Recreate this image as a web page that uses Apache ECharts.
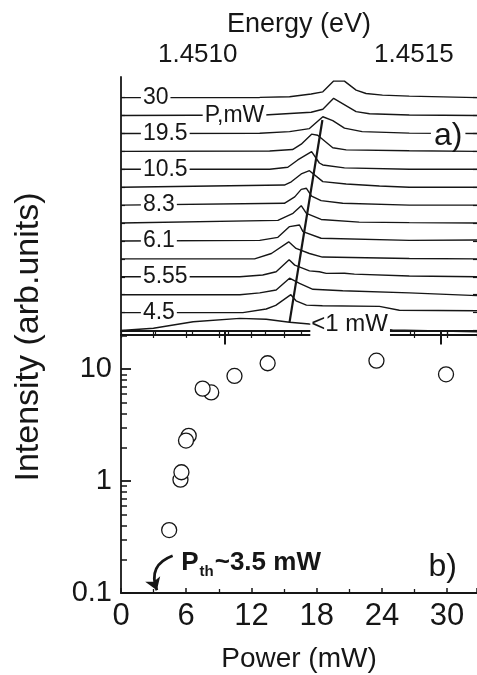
<!DOCTYPE html>
<html><head><meta charset="utf-8">
<script src="https://cdn.jsdelivr.net/npm/echarts@6/dist/echarts.min.js"></script>
<style>html,body{margin:0;padding:0;background:#fff}#c{width:477px;height:675px}</style>
</head><body><div id="c"></div>
<script>
// ---------- panel a) spectra: [energy (eV), normalized intensity] ----------
const specLt1 = [[1.450760,0],[1.450835,0.13],[1.450927,0.49],[1.451035,0.68],[1.451096,0.63],[1.451150,0.46],[1.451196,0.36],[1.451388,0.03],[1.451584,-0.07]];
const spec4_5 = [[1.450760,0],[1.451042,0],[1.451096,0.2],[1.451118,0.4],[1.451153,1.0],[1.451165,0.66],[1.451189,0.42],[1.451226,0.38],[1.451358,0.35],[1.451404,0.13],[1.451584,0.1]];
const specB = [[1.450760,0],[1.451035,0],[1.451081,0.1],[1.451119,0.26],[1.451150,0.92],[1.451173,0.63],[1.451204,0.3],[1.451273,0.22],[1.451427,0.1],[1.451584,-0.05]];
const spec5_55 = [[1.450760,0],[1.451035,0],[1.451088,0.1],[1.451119,0.28],[1.451149,0.95],[1.451162,0.65],[1.451196,0.33],[1.451219,0.28],[1.451235,0.19],[1.451277,0.2],[1.451300,0.15],[1.451427,0.04],[1.451584,0]];
const specD = [[1.450760,0],[1.451069,0],[1.451108,0.3],[1.451148,0.95],[1.451165,0.58],[1.451196,0.3],[1.451226,0.1],[1.451427,0.02],[1.451584,0]];
const spec6_1 = [[1.450760,0],[1.451081,0.03],[1.451123,0.2],[1.451150,0.8],[1.451173,0.89],[1.451181,0.52],[1.451223,0.15],[1.451427,0.03],[1.451584,0.05]];
const specF = [[1.450760,0],[1.451123,0.15],[1.451158,0.54],[1.451177,0.97],[1.451189,0.54],[1.451223,0.2],[1.451311,0.05],[1.451427,0.02],[1.451584,0]];
const spec8_3 = [[1.450760,0],[1.451138,0.1],[1.451162,0.46],[1.451177,0.88],[1.451189,0.94],[1.451201,0.5],[1.451223,0.25],[1.451273,0.1],[1.451427,0],[1.451584,0]];
const specH = [[1.450760,0],[1.451138,0.12],[1.451154,0.3],[1.451177,0.74],[1.451196,0.92],[1.451227,0.31],[1.451281,0.18],[1.451358,0.07],[1.451427,0],[1.451584,0]];
const spec10_5 = [[1.450760,0],[1.451104,0],[1.451146,0.11],[1.451169,0.52],[1.451201,0.98],[1.451219,0.35],[1.451227,0.24],[1.451277,0.08],[1.451427,0],[1.451584,0]];
const specJ = [[1.450760,0],[1.451104,0.02],[1.451157,0.1],[1.451177,0.4],[1.451201,0.96],[1.451215,0.9],[1.451250,0.2],[1.451281,0.08],[1.451427,0.03],[1.451584,0]];
const spec19_5 = [[1.450760,0],[1.451081,0.01],[1.451150,0.1],[1.451196,0.27],[1.451227,0.93],[1.451250,0.72],[1.451277,0.3],[1.451318,0.1],[1.451427,0.02],[1.451584,0]];
const specL = [[1.450760,0],[1.451092,0.03],[1.451200,0.18],[1.451227,0.35],[1.451252,0.96],[1.451304,0.22],[1.451335,0.1],[1.451427,0.03],[1.451584,0]];
const spec30 = [[1.450760,0],[1.451081,0.01],[1.451150,0.05],[1.451200,0.2],[1.451227,0.32],[1.451252,0.92],[1.451277,0.92],[1.451304,0.42],[1.451327,0.23],[1.451365,0.14],[1.451427,0.08],[1.451584,0]];
// bottom-to-top stacking order (offset = index)
const spectra = [specLt1, spec4_5, specB, spec5_55, specD, spec6_1, specF, spec8_3, specH, spec10_5, specJ, spec19_5, specL, spec30];

// peak-shift guide line
const trendEnergy = [1.451150, 1.451226];
const trendLevel = [0.47, 11.75];

// trace labels
const traceLabelText = ['30', 'P,mW', '19.5', '10.5', '8.3', '6.1', '5.55', '4.5'];
const traceLabelLevel = [13, 12, 11, 9, 7, 5, 3, 1];
const traceLabelEnergy = [1.450806, 1.450949, 1.450806, 1.450806, 1.450806, 1.450806, 1.450806, 1.450806];

// energy axis ticks
const energyMajorTicks = [1.4510, 1.4515];
const energyMinorTicks = [1.450840, 1.450924, 1.451009, 1.451093, 1.451177, 1.451261, 1.451345, 1.451430, 1.451514];
const traceTicks = [0,1,2,3,4,5,6,7,8,9,10,11,12,13];

// ---------- panel b) intensity vs power ----------
const powerMW = [4.43, 8.30, 7.51, 6.23, 5.98, 5.47, 5.56, 10.44, 13.49, 23.5, 29.9];
const intensity = [0.365, 6.2, 6.7, 2.54, 2.30, 1.03, 1.20, 8.7, 11.3, 11.9, 9.0];
const logMajor = [0.1, 1, 10];
const logMinor = [0.2,0.3,0.4,0.5,0.6,0.7,0.8,0.9,2,3,4,5,6,7,8,9,20];
const arrowStart = [4.75, 0.215];
const arrowEnd = [3.3, 0.106];

const FONT = '"Liberation Sans", Arial, Helvetica, sans-serif';
const INK = '#161616';
const TXT = '#161616';

const E_MIN = 1.45076, E_MAX = 1.4515837;
const P_MAX = 32.75;
const V_MIN = -0.25, V_MAX = 14.15;

const series = [];
spectra.forEach((s, k) => {
  series.push({
    type: 'line', xAxisIndex: 0, yAxisIndex: 0,
    data: s.map(p => [p[0], p[1] + k]),
    symbol: 'none', showSymbol: false, silent: true, animation: false,
    lineStyle: { color: INK, width: 1.4 }, z: 3
  });
});
series.push({
  type: 'line', xAxisIndex: 0, yAxisIndex: 0,
  data: trendEnergy.map((e, i) => [e, trendLevel[i]]),
  symbol: 'none', silent: true, animation: false,
  lineStyle: { color: INK, width: 2.2 }, z: 4
});
// labels on traces
const labData = traceLabelText.map((t, i) => ({
  value: [traceLabelEnergy[i], traceLabelLevel[i]],
  label: { formatter: t }
}));
labData.push({ value: [1.451198, 0.36], label: { formatter: '<1 mW', fontSize: 24, lineHeight: 22, padding: [1, 2, 7, 1] } });
series.push({
  type: 'scatter', xAxisIndex: 0, yAxisIndex: 0, symbolSize: 0, silent: true, animation: false, z: 6,
  itemStyle: { opacity: 1 },
  data: labData,
  label: { show: true, position: 'right', distance: 0, fontSize: 23, fontFamily: FONT, color: TXT,
           backgroundColor: '#fff', padding: [0, 2], lineHeight: 18 }
});
series.push({
  type: 'scatter', xAxisIndex: 0, yAxisIndex: 0, symbolSize: 0, silent: true, animation: false, z: 6,
  itemStyle: { opacity: 1 },
  data: [{ value: [1.451517, 10.83], label: { formatter: 'a)' } }],
  label: { show: true, position: 'inside', fontSize: 32, fontFamily: FONT, color: TXT,
           backgroundColor: '#fff', padding: [0, 3], lineHeight: 16 }
});
// panel b
series.push({
  type: 'scatter', xAxisIndex: 3, yAxisIndex: 2, silent: true, animation: false, z: 3,
  data: powerMW.map((p, i) => [p, intensity[i]]),
  symbol: 'circle', symbolSize: 15,
  itemStyle: { color: '#fff', borderColor: INK, borderWidth: 1.3, opacity: 1 }
});
series.push({
  type: 'lines', coordinateSystem: 'cartesian2d', xAxisIndex: 3, yAxisIndex: 2, silent: true, animation: false, z: 4,
  data: [{ coords: [arrowStart, arrowEnd] }],
  symbol: ['none', 'arrow'], symbolSize: 12,
  lineStyle: { color: INK, width: 2.8, curveness: -0.5, opacity: 1 }
});
series.push({
  type: 'scatter', xAxisIndex: 3, yAxisIndex: 2, symbolSize: 0, silent: true, animation: false, z: 6,
  itemStyle: { opacity: 1 },
  data: [
    { value: [5.54, 0.185], label: { position: 'right', distance: 0, formatter: '{p|P}{s|th}{p|~3.5 mW}',
      rich: { p: { fontSize: 26, fontWeight: 'bold', fontFamily: FONT, color: TXT, lineHeight: 32, verticalAlign: 'middle' },
              s: { fontSize: 15, fontWeight: 'bold', fontFamily: FONT, color: TXT, lineHeight: 32, verticalAlign: 'bottom', padding: [0, 1, 0, 1] } } } },
    { value: [29.6, 0.171], label: { position: 'inside', formatter: 'b)', fontSize: 32, fontFamily: FONT, color: TXT } }
  ],
  label: { show: true }
});

const axLine = { show: true, lineStyle: { color: INK, width: 1.8 } };
const option = {
  backgroundColor: '#fff',
  animation: false,
  grid: [
    { left: 121, top: 77, width: 357, height: 258 },
    { left: 121, top: 335, width: 357, height: 258 }
  ],
  xAxis: [
    { type: 'value', gridIndex: 0, position: 'top', min: E_MIN, max: E_MAX,
      name: 'Energy (eV)', nameLocation: 'middle', nameGap: 39,
      nameTextStyle: { fontSize: 27, color: TXT, fontFamily: FONT },
      axisLine: axLine,
      axisTick: { show: true, inside: true, length: 14, customValues: energyMajorTicks, lineStyle: { color: INK, width: 2 } },
      axisLabel: { show: true, customValues: energyMajorTicks, formatter: v => Number(v).toFixed(4), fontSize: 26, color: TXT, fontFamily: FONT, margin: 9, padding: [0, 54, 0, 0] },
      splitLine: { show: false } },
    { type: 'value', gridIndex: 0, position: 'top', min: E_MIN, max: E_MAX,
      axisLine: { show: false },
      axisTick: { show: true, inside: true, length: 4, customValues: energyMinorTicks, lineStyle: { color: INK, width: 1.2 } },
      axisLabel: { show: false }, splitLine: { show: false } },
    { type: 'value', gridIndex: 0, position: 'bottom', min: 0, max: P_MAX, interval: 3,
      axisLine: axLine,
      axisTick: { show: true, inside: true, length: 3, lineStyle: { color: INK, width: 1.2 } },
      axisLabel: { show: false }, splitLine: { show: false } },
    { type: 'value', gridIndex: 1, position: 'bottom', min: 0, max: P_MAX, interval: 6,
      name: 'Power (mW)', nameLocation: 'middle', nameGap: 52,
      nameTextStyle: { fontSize: 28, color: TXT, fontFamily: FONT },
      axisLine: axLine,
      axisTick: { show: true, inside: true, length: 5, lineStyle: { color: INK, width: 1.5 } },
      minorTick: { show: true, splitNumber: 2, length: 4, lineStyle: { color: INK, width: 1.3 } },
      axisLabel: { show: true, fontSize: 31, color: TXT, fontFamily: FONT, margin: 8, showMaxLabel: false },
      splitLine: { show: false } },
    { type: 'value', gridIndex: 1, position: 'top', min: 0, max: P_MAX, interval: 3,
      axisLine: axLine,
      axisTick: { show: true, inside: true, length: 3, lineStyle: { color: INK, width: 1.2 } },
      axisLabel: { show: false }, splitLine: { show: false } }
  ],
  yAxis: [
    { type: 'value', gridIndex: 0, position: 'left', min: V_MIN, max: V_MAX,
      axisLine: axLine,
      axisTick: { show: true, inside: true, length: 4, customValues: traceTicks, lineStyle: { color: INK, width: 1.2 } },
      axisLabel: { show: false }, splitLine: { show: false } },
    { type: 'value', gridIndex: 0, position: 'right', min: V_MIN, max: V_MAX,
      axisLine: { show: false },
      axisTick: { show: true, inside: true, length: 4, customValues: traceTicks, lineStyle: { color: INK, width: 1.2 } },
      axisLabel: { show: false }, splitLine: { show: false } },
    { type: 'log', gridIndex: 1, position: 'left', min: 0.1, max: 20.2,
      axisLine: axLine,
      axisTick: { show: true, inside: true, length: 10, customValues: logMajor, lineStyle: { color: INK, width: 1.8 } },
      axisLabel: { show: true, customValues: logMajor, formatter: v => String(+Number(v).toPrecision(3)), fontSize: 29, color: TXT, fontFamily: FONT, margin: 9 },
      splitLine: { show: false } },
    { type: 'log', gridIndex: 1, position: 'left', min: 0.1, max: 20.2,
      axisLine: { show: false },
      axisTick: { show: true, inside: true, length: 6, customValues: logMinor, lineStyle: { color: INK, width: 1.5 } },
      axisLabel: { show: false }, splitLine: { show: false } }
  ],
  graphic: [
    { type: 'text', x: 29, y: 337, rotation: Math.PI / 2, silent: true,
      style: { text: 'Intensity (arb.units)', fontSize: 34, fontFamily: FONT, fill: TXT,
               align: 'center', verticalAlign: 'middle', textAlign: 'center', textVerticalAlign: 'middle' } }
  ],
  series: series
};
const chart = echarts.init(document.getElementById('c'), null, { renderer: 'canvas' });
chart.setOption(option);
</script>
</body></html>
